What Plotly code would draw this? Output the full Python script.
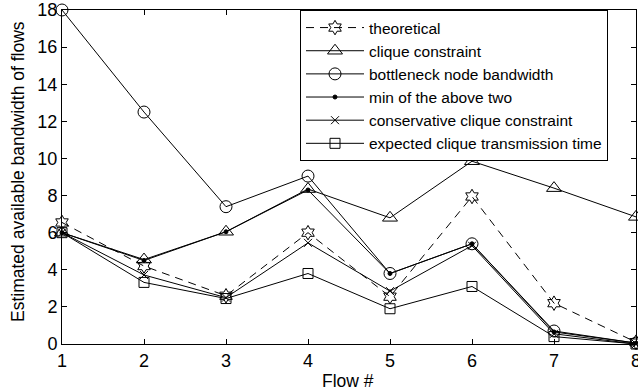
import plotly.graph_objects as go

flows = [1, 2, 3, 4, 5, 6, 7, 8]
theoretical = [6.55, 4.2, 2.6, 6.0, 2.55, 7.95, 2.2, 0.1]
clique_constraint = [6.0, 4.55, 6.05, 8.35, 6.8, 9.85, 8.4, 6.85]
bottleneck = [18.0, 12.5, 7.4, 9.05, 3.8, 5.4, 0.7, 0.05]
min_two = [6.0, 4.5, 6.05, 8.3, 3.8, 5.4, 0.65, 0.05]
conservative = [6.0, 3.72, 2.5, 5.45, 2.85, 5.3, 0.55, 0.0]
expected = [6.0, 3.32, 2.45, 3.8, 1.9, 3.1, 0.4, 0.0]

series = [
    ("theoretical", theoretical, "hexagram-open", 11, "dash"),
    ("clique constraint", clique_constraint, "triangle-up-open", 13, "solid"),
    ("bottleneck node bandwidth", bottleneck, "circle-open", 12, "solid"),
    ("min of the above two", min_two, "circle", 4, "solid"),
    ("conservative clique constraint", conservative, "x-thin-open", 8, "solid"),
    ("expected clique transmission time", expected, "square-open", 10, "solid"),
]

fig = go.Figure()
for name, vals, sym, size, dash in series:
    fig.add_trace(go.Scatter(
        x=flows, y=vals, name=name, mode="lines+markers",
        line=dict(color="black", width=1, dash="8px,6px" if dash == "dash" else "solid"),
        marker=dict(symbol=sym, size=size, color="black",
                    line=dict(color="black", width=1)),
        cliponaxis=False,
    ))

font = "Liberation Sans, Arial, Helvetica, sans-serif"
L, R, T, B = 62, 2, 10, 46
W, H = 638, 390
pw = W - L - R
ph = H - T - B

fig.update_layout(
    width=W, height=H,
    margin=dict(l=L, r=R, t=T, b=B, pad=0, autoexpand=False),
    paper_bgcolor="white", plot_bgcolor="white",
    font=dict(family=font, size=17, color="black"),
    showlegend=True,
    legend=dict(
        x=(300 - L) / pw, y=1, xanchor="left", yanchor="top",
        bgcolor="white", bordercolor="black", borderwidth=1,
        font=dict(family=font, size=15.5, color="black"),
        tracegroupgap=0, itemwidth=58,
    ),
    xaxis=dict(
        range=[1, 8], tickvals=flows, ticks="inside", ticklen=5,
        showline=True, linecolor="black", linewidth=1, mirror="ticks",
        showgrid=False, zeroline=False, tickcolor="black",
        tickfont=dict(size=18), automargin=False, ticklabeloverflow="allow",
    ),
    yaxis=dict(
        range=[0, 18], tickvals=list(range(0, 19, 2)), ticks="inside", ticklen=5,
        showline=True, linecolor="black", linewidth=1, mirror="ticks",
        showgrid=False, zeroline=False, tickcolor="black",
        tickfont=dict(size=18), automargin=False, ticklabeloverflow="allow",
    ),
    annotations=[
        dict(text="Flow #", xref="paper", yref="paper",
             x=(348 - L) / pw, y=-(381 - (T + ph)) / ph,
             showarrow=False, xanchor="center", yanchor="middle",
             font=dict(size=17.5)),
        dict(text="Estimated available bandwidth of flows", xref="paper", yref="paper",
             x=(18 - L) / pw, y=(T + ph - 172) / ph, textangle=-90,
             showarrow=False, xanchor="center", yanchor="middle",
             font=dict(size=17.5)),
    ],
)

fig.write_html("out.html", config={"displayModeBar": False},
               post_script="document.body.style.margin='0';document.body.style.padding='0';")
